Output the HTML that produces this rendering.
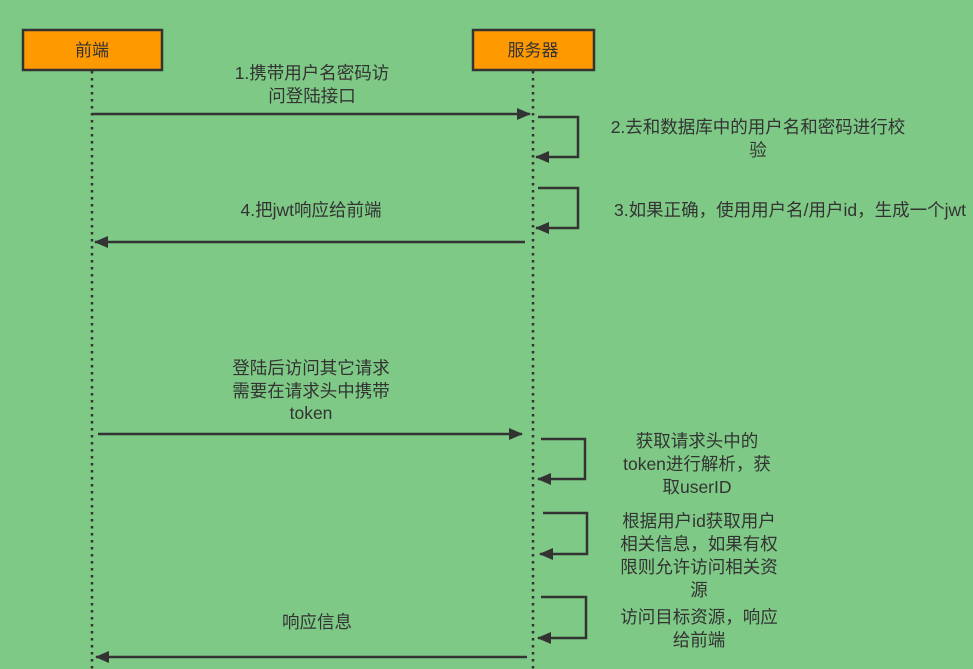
<!DOCTYPE html><html><head><meta charset="utf-8"><style>body{margin:0;background:#7ec986}svg{display:block}text{font-family:"Liberation Sans","Noto Sans CJK SC",sans-serif;font-size:17.5px;fill:#333;text-anchor:middle}</style></head><body>
<svg width="973" height="669" viewBox="0 0 973 669">
<defs><marker id="a" markerWidth="14" markerHeight="12" refX="13" refY="6" orient="auto" markerUnits="userSpaceOnUse"><path d="M0,0L14,6L0,12z" fill="#333"/></marker></defs>
<rect x="23" y="30" width="139" height="40" fill="#ff9900" stroke="#333" stroke-width="2.5"/>
<rect x="473" y="30" width="121" height="40" fill="#ff9900" stroke="#333" stroke-width="2.5"/>
<text x="92" y="56" style="font-size:17px">前端</text><text x="533" y="56" style="font-size:17px">服务器</text>
<g stroke="#333" stroke-width="2.5" stroke-dasharray="2.5,4.5" fill="none"><line x1="92" y1="71" x2="92" y2="669"/><line x1="533" y1="71" x2="533" y2="669"/></g>
<g stroke="#333" stroke-width="2.5" fill="none" marker-end="url(#a)">
<line x1="92" y1="114" x2="530" y2="114"/>
<path d="M538,117H578V157H536"/>
<path d="M538,188H578V228H536"/>
<line x1="525" y1="242" x2="95" y2="242"/>
<line x1="98" y1="434" x2="522" y2="434"/>
<path d="M541,439H585V479H538"/>
<path d="M543,513H587V554H540"/>
<path d="M541,597H586V638H538"/>
<line x1="527" y1="657" x2="96" y2="657"/>
</g>
<text x="312" y="79">1.携带用户名密码访</text><text x="312" y="102">问登陆接口</text>
<text x="758" y="133">2.去和数据库中的用户名和密码进行校</text><text x="758" y="156">验</text>
<text x="790" y="216">3.如果正确，使用用户名/用户id，生成一个jwt</text>
<text x="311" y="216">4.把jwt响应给前端</text>
<text x="311" y="374">登陆后访问其它请求</text><text x="311" y="397">需要在请求头中携带</text><text x="311" y="419">token</text>
<text x="697" y="447">获取请求头中的</text><text x="697" y="470">token进行解析，获</text><text x="697" y="493">取userID</text>
<text x="699" y="527">根据用户id获取用户</text><text x="699" y="550">相关信息，如果有权</text><text x="699" y="573">限则允许访问相关资</text><text x="699" y="596">源</text>
<text x="699" y="623">访问目标资源，响应</text><text x="699" y="646">给前端</text>
<text x="317" y="628">响应信息</text>
</svg></body></html>
